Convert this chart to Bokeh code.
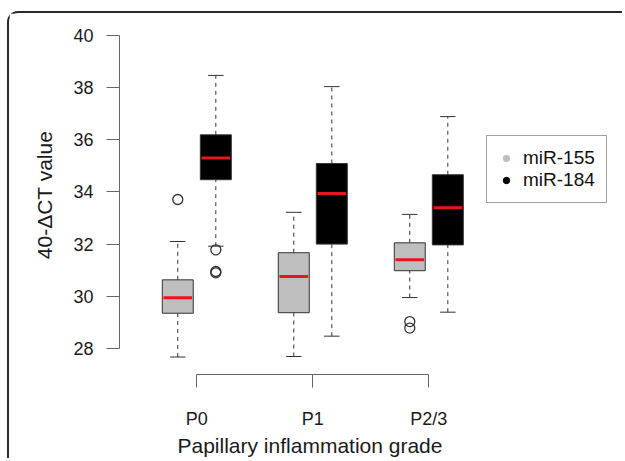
from bokeh.plotting import figure
from bokeh.models import Range1d, FixedTicker, Legend, LegendItem, Title
from bokeh.embed import file_html
from bokeh.resources import INLINE

# ---------------- data ----------------
categories = ["P0", "P1", "P2/3"]
series = ["miR-155", "miR-184"]
y_ticks = [28, 30, 32, 34, 36, 38, 40]

# miR-155 five-number summaries (per category)
mir155_low = [27.67, 27.69, 29.95]
mir155_q1 = [29.35, 29.37, 30.98]
mir155_med = [29.94, 30.76, 31.40]
mir155_q3 = [30.63, 31.67, 32.05]
mir155_high = [32.10, 33.22, 33.14]
mir155_out_cat = ["P0", "P2/3", "P2/3"]
mir155_out_val = [33.71, 29.03, 28.78]

# miR-184 five-number summaries (per category)
mir184_low = [31.92, 28.47, 29.39]
mir184_q1 = [34.47, 32.00, 31.97]
mir184_med = [35.30, 33.94, 33.39]
mir184_q3 = [36.19, 35.09, 34.66]
mir184_high = [38.47, 38.04, 36.89]
mir184_out_cat = ["P0", "P0", "P0"]
mir184_out_val = [31.78, 30.95, 30.90]

# ---------------- styling / layout ----------------
FONT = "Liberation Sans"
fills = ["#bebebe", "#000000"]
offsets = [-0.164, 0.164]
box_w = 0.267
cap_w = box_w * 0.5

p = figure(width=615, height=447, output_backend="svg", toolbar_location=None,
           x_range=Range1d(0.3336, 4.6095), y_range=Range1d(27.0, 40.767),
           min_border_left=110, min_border_right=9, min_border_top=2, min_border_bottom=86)
p.outline_line_color = None
p.xgrid.visible = False
p.ygrid.visible = False
p.background_fill_color = "white"
p.border_fill_color = "white"
# rounded panel frame of the journal figure (only top/left edges are visible)
p.styles = {"margin-left": "7px", "margin-top": "11px",
            "border-top": "2px solid #2a2a2a", "border-left": "2px solid #2a2a2a",
            "border-top-left-radius": "11px"}

stats = [
    (mir155_low, mir155_q1, mir155_med, mir155_q3, mir155_high, mir155_out_cat, mir155_out_val),
    (mir184_low, mir184_q1, mir184_med, mir184_q3, mir184_high, mir184_out_cat, mir184_out_val),
]

for si, (lo, q1, med, q3, hi, ocat, oval) in enumerate(stats):
    xs = [i + 1 + offsets[si] for i in range(len(categories))]
    # whiskers
    p.segment(x0=xs, y0=q3, x1=xs, y1=hi, line_color="#333333", line_width=1, line_dash="4 4")
    p.segment(x0=xs, y0=lo, x1=xs, y1=q1, line_color="#333333", line_width=1, line_dash="4 4")
    # caps
    p.segment(x0=[x - cap_w / 2 for x in xs], y0=hi, x1=[x + cap_w / 2 for x in xs], y1=hi,
              line_color="#333333", line_width=1)
    p.segment(x0=[x - cap_w / 2 for x in xs], y0=lo, x1=[x + cap_w / 2 for x in xs], y1=lo,
              line_color="#333333", line_width=1)
    # boxes
    p.vbar(x=xs, width=box_w, bottom=q1, top=q3, fill_color=fills[si],
           line_color="#333333", line_width=1)
    # medians
    p.segment(x0=[x - box_w / 2 + 0.01 for x in xs], y0=med, x1=[x + box_w / 2 - 0.01 for x in xs], y1=med,
              line_color="#e8161b", line_width=3)
    # outliers
    ox = [categories.index(c) + 1 + offsets[si] for c in ocat]
    p.scatter(x=ox, y=oval, marker="circle", size=10, fill_color=None,
              line_color="#333333", line_width=1.3)

# legend (dot swatches; NaN positions so only the legend shows them)
nan = float("nan")
r155 = p.scatter(x=[nan], y=[nan], marker="circle", size=8, fill_color=fills[0], line_color=fills[0])
r184 = p.scatter(x=[nan], y=[nan], marker="circle", size=8, fill_color=fills[1], line_color=fills[1])
legend = Legend(items=[LegendItem(label=series[0], renderers=[r155], index=0),
                       LegendItem(label=series[1], renderers=[r184], index=0)],
                location=(367, 171), margin=0, padding=11, spacing=0,
                glyph_width=16, glyph_height=20, label_standoff=9,
                label_text_font=FONT, label_text_font_size="19px", label_text_color="#111111",
                border_line_color="#444444", border_line_width=1, background_fill_alpha=1)
p.add_layout(legend)

# axes
for ax in (p.xaxis[0], p.yaxis[0]):
    ax.minor_tick_line_color = None
    ax.major_tick_out = 13
    ax.major_tick_in = 0
    ax.axis_line_color = "#666666"
    ax.major_tick_line_color = "#666666"
    ax.major_label_text_font = FONT
    ax.major_label_text_font_size = "18px"
    ax.major_label_text_color = "#1a1a1a"
    ax.axis_label_text_font = FONT
    ax.axis_label_text_font_size = "21px"
    ax.axis_label_text_font_style = "normal"
    ax.axis_label_text_color = "#1a1a1a"

p.yaxis.ticker = FixedTicker(ticks=y_ticks)
p.yaxis.bounds = (y_ticks[0], y_ticks[-1])
p.yaxis.major_label_standoff = 13
p.yaxis.axis_label = "40-\u0394CT value"
p.yaxis.axis_label_standoff = 14

p.xaxis.ticker = FixedTicker(ticks=[i + 1 for i in range(len(categories))])
p.xaxis.major_label_overrides = {i + 1: c for i, c in enumerate(categories)}
p.xaxis.bounds = (1, len(categories))
p.xaxis.major_label_standoff = 21

# x-axis title (placed as a title below the axis, left-aligned with an offset)
xtitle = Title(text="Papillary inflammation grade", align="left", offset=58, standoff=0,
               text_font=FONT, text_font_size="21px", text_font_style="normal",
               text_color="#1a1a1a")
p.add_layout(xtitle, "below")

open("out.html", "w").write(file_html(p, INLINE))
